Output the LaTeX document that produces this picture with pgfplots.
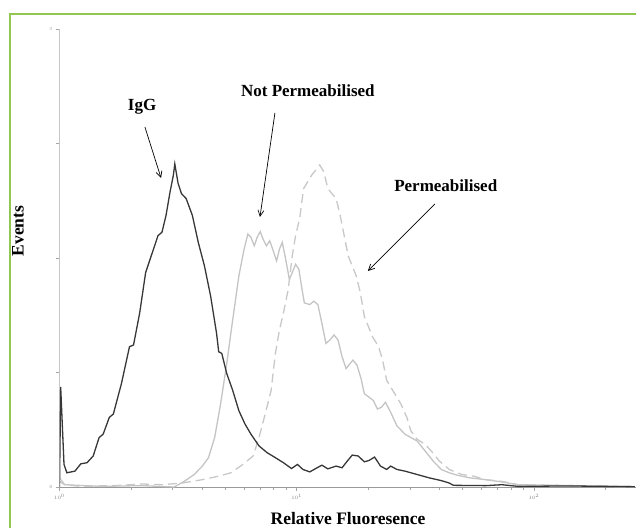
\documentclass[border=0pt]{standalone}
\usepackage{fontspec}
\setmainfont{Liberation Serif}
\usepackage{pgfplots}
\pgfplotsset{compat=1.18}
\usepackage{pgfplotstable}
\usetikzlibrary{arrows.meta}
\definecolor{framegreen}{RGB}{146,200,80}
\definecolor{igg}{RGB}{55,55,55}
\definecolor{notperm}{RGB}{196,196,196}
\definecolor{perm}{RGB}{200,200,200}

% x: decades (log10 of fluorescence), y: events
\pgfplotstableread{
x y
0.000 0.000
0.005 0.655
0.019 0.148
0.031 0.093
0.065 0.104
0.090 0.152
0.116 0.159
0.142 0.203
0.167 0.324
0.184 0.346
0.210 0.456
0.227 0.478
0.261 0.677
0.295 0.919
0.312 0.930
0.338 1.140
0.363 1.404
0.389 1.525
0.415 1.646
0.432 1.669
0.449 1.779
0.466 1.933
0.480 2.043
0.486 2.116
0.500 1.988
0.514 1.922
0.534 1.889
0.560 1.779
0.585 1.602
0.611 1.448
0.637 1.250
0.662 1.007
0.671 0.886
0.684 0.875
0.705 0.743
0.730 0.633
0.756 0.500
0.782 0.412
0.807 0.346
0.841 0.269
0.875 0.225
0.910 0.192
0.944 0.159
0.978 0.121
1.003 0.148
1.026 0.115
1.055 0.099
1.080 0.121
1.106 0.143
1.131 0.119
1.166 0.137
1.191 0.126
1.213 0.170
1.234 0.209
1.259 0.203
1.285 0.165
1.305 0.174
1.328 0.196
1.353 0.137
1.379 0.115
1.396 0.137
1.422 0.115
1.456 0.104
1.507 0.082
1.558 0.060
1.609 0.042
1.643 0.026
1.660 0.011
1.797 0.009
1.865 0.015
1.933 0.004
2.138 0.007
2.425 0.002
}\igg

\pgfplotstableread{
x y
0.000 0.037
0.022 0.015
0.176 0.004
0.346 0.009
0.483 0.000
0.526 0.037
0.568 0.082
0.602 0.137
0.628 0.192
0.654 0.324
0.679 0.544
0.705 0.809
0.730 1.095
0.756 1.382
0.778 1.558
0.794 1.657
0.807 1.635
0.821 1.580
0.833 1.635
0.846 1.673
0.858 1.624
0.872 1.580
0.886 1.613
0.901 1.547
0.915 1.481
0.927 1.558
0.939 1.602
0.952 1.503
0.969 1.360
0.981 1.404
0.995 1.459
1.009 1.426
1.020 1.316
1.032 1.206
1.055 1.195
1.072 1.217
1.089 1.195
1.106 1.073
1.123 0.941
1.140 0.963
1.157 0.996
1.174 0.963
1.191 0.853
1.208 0.776
1.225 0.809
1.237 0.831
1.254 0.798
1.271 0.710
1.285 0.611
1.305 0.588
1.323 0.566
1.340 0.511
1.357 0.522
1.374 0.555
1.396 0.489
1.422 0.401
1.456 0.346
1.481 0.324
1.507 0.302
1.541 0.236
1.575 0.170
1.609 0.115
1.643 0.093
1.677 0.077
1.729 0.060
1.797 0.048
1.865 0.033
1.933 0.015
2.425 0.002
}\notperm

\pgfplotstableread{
x y
0.000 0.060
0.022 0.015
0.090 0.004
0.261 0.011
0.346 0.020
0.432 0.015
0.517 0.026
0.602 0.048
0.671 0.071
0.722 0.093
0.773 0.148
0.816 0.203
0.841 0.324
0.867 0.478
0.892 0.633
0.910 0.875
0.927 1.029
0.944 1.140
0.964 1.294
0.981 1.514
0.995 1.646
1.012 1.757
1.029 1.955
1.046 1.999
1.063 2.043
1.080 2.076
1.097 2.109
1.114 2.065
1.131 1.955
1.148 1.922
1.166 1.889
1.183 1.779
1.200 1.646
1.217 1.514
1.234 1.448
1.251 1.382
1.268 1.272
1.285 1.117
1.302 1.051
1.319 0.985
1.345 0.919
1.362 0.831
1.379 0.699
1.396 0.655
1.413 0.611
1.439 0.544
1.464 0.456
1.481 0.368
1.507 0.313
1.541 0.280
1.567 0.236
1.601 0.170
1.643 0.115
1.695 0.082
1.746 0.071
1.797 0.048
1.865 0.037
1.933 0.015
2.425 0.002
}\perm

\begin{document}
\begin{tikzpicture}[x=1pt,y=1pt]
\useasboundingbox (0,0) rectangle (636,527);
\clip (0,0) rectangle (636,527);
\draw[framegreen,line width=2.4pt] (10,-5) -- (10,513) -- (650,513);
\begin{axis}[
at={(59.5pt,40pt)},anchor=south west,
scale only axis,width=576.5pt,height=458pt,
xmin=0,xmax=2.43,ymin=0,ymax=3,
axis lines*=left,
x axis line style={draw=gray!80,line width=0.8pt},
y axis line style={draw=gray!45,line width=0.8pt},
xtick={0,1,2},xticklabels={$10^0$,$10^1$,$10^2$},
minor xtick={0.301,0.477,0.602,0.699,0.778,0.845,0.903,0.954,
1.301,1.477,1.602,1.699,1.778,1.845,1.903,1.954,2.301},
ytick={0,0.75,1.5,2.25,3},yticklabels={0,,,,3},
tick align=outside,major tick length=4pt,minor tick length=3pt,
every tick/.style={draw=gray!70,line width=0.5pt},
tick label style={font=\fontsize{4.5}{5}\selectfont,text=gray},
]
\addplot[no marks,notperm,line width=1.3pt] table {\notperm};
\addplot[no marks,perm,line width=1.3pt,dash pattern=on 9pt off 5pt] table {\perm};
\addplot[no marks,igg,line width=1.3pt] table {\igg};

\node[font=\fontsize{17}{20}\selectfont\bfseries] at (axis cs:0.348,2.489) {IgG};
\node[font=\fontsize{17}{20}\selectfont\bfseries] at (axis cs:1.047,2.594) {Not Permeabilised};
\node[font=\fontsize{17}{20}\selectfont\bfseries] at (axis cs:1.628,1.972) {Permeabilised};
\draw[-{Straight Barb[length=6pt,width=6pt]},line width=0.7pt] (axis cs:0.360,2.358) -- (axis cs:0.428,2.024);
\draw[-{Straight Barb[length=6pt,width=6pt]},line width=0.7pt] (axis cs:0.908,2.450) -- (axis cs:0.845,1.769);
\draw[-{Straight Barb[length=6pt,width=6pt]},line width=0.7pt] (axis cs:1.582,1.854) -- (axis cs:1.300,1.415);
\end{axis}
\node[rotate=90,font=\fontsize{17.5}{20}\selectfont\bfseries] at (18,296) {Events};
\node[anchor=base,font=\fontsize{17.5}{20}\selectfont\bfseries] at (348,3) {Relative Fluoresence};
\end{tikzpicture}
\end{document}
